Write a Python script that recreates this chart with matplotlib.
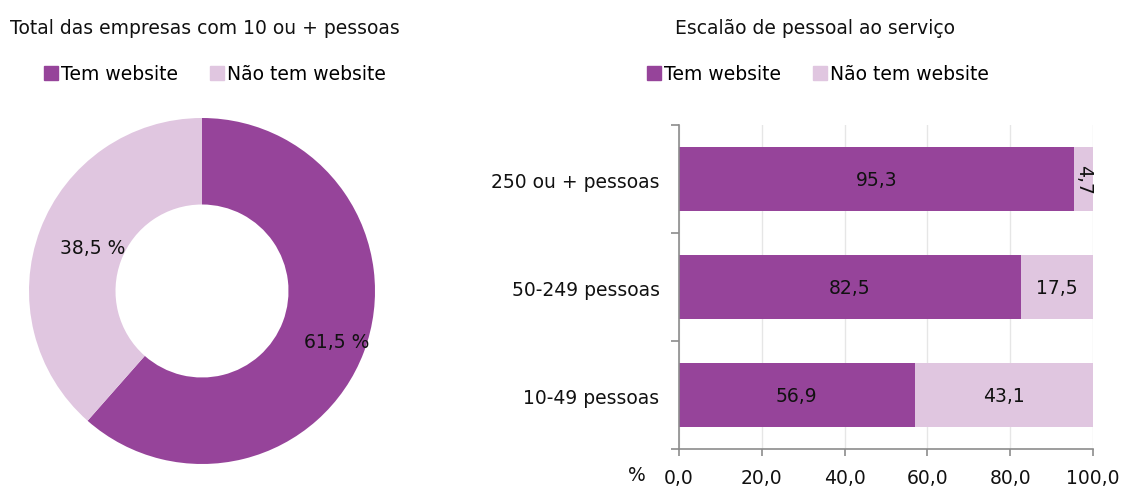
import matplotlib

matplotlib.use("Agg")
import matplotlib.pyplot as plt  # noqa: E402
from matplotlib.patches import Patch  # noqa: E402

DARK, LIGHT, INK, AXIS = "#96449A", "#E0C6E0", "#111111", "#8c8c8c"

series = ["Tem website", "Não tem website"]
total_values = [61.5, 38.5]

categories = ["10-49 pessoas", "50-249 pessoas", "250 ou + pessoas"]
tem_website = [56.9, 82.5, 95.3]
nao_tem_website = [43.1, 17.5, 4.7]
x_ticks = [0, 20, 40, 60, 80, 100]

plt.rcParams["font.family"] = ["DejaVu Sans"]
FS = 13.5

fig = plt.figure(figsize=(11.28, 4.89), dpi=100)
W, H = 1128, 489


def px_axes(x0, y0, x1, y1):
    return fig.add_axes([x0 / W, 1 - y1 / H, (x1 - x0) / W, (y1 - y0) / H])


def fmt(v):
    return f"{v:.1f}".replace(".", ",")


# ---- donut ----
ax1 = px_axes(29, 119, 375, 465)
ax1.pie(
    total_values,
    colors=[DARK, LIGHT],
    startangle=90,
    counterclock=False,
    radius=1.0,
    wedgeprops={"width": 0.5, "edgecolor": "none"},
)
ax1.set_xlim(-1, 1)
ax1.set_ylim(-1, 1)
ax1.set_aspect("equal")
ax1.text(0.78, -0.29, fmt(total_values[0]) + " %", ha="center", va="center",
         fontsize=FS, color=INK)
ax1.text(-0.63, 0.25, fmt(total_values[1]) + " %", ha="center", va="center",
         fontsize=FS, color=INK)

fig.text(10 / W, 1 - 28 / H, "Total das empresas com 10 ou + pessoas",
         ha="left", va="center", fontsize=FS, color=INK)
handles = [Patch(color=DARK, label=series[0]), Patch(color=LIGHT, label=series[1])]
leg_kw = dict(ncol=2, frameon=False, fontsize=FS, handlelength=0.75, handleheight=0.75,
              handletextpad=0.15, columnspacing=1.7, borderaxespad=0, borderpad=0)
fig.legend(handles=handles, loc="center left", bbox_to_anchor=(44 / W, 1 - 75 / H), **leg_kw)

# ---- stacked bars ----
ax2 = px_axes(679, 126, 1093, 450)
ypos = list(range(len(categories)))
ax2.barh(ypos, tem_website, height=0.59, color=DARK, zorder=2)
ax2.barh(ypos, nao_tem_website, left=tem_website, height=0.59, color=LIGHT, zorder=2)
for y, a, b in zip(ypos, tem_website, nao_tem_website):
    ax2.text(a / 2, y, fmt(a), ha="center", va="center", fontsize=FS, color=INK, zorder=3)
    ax2.text(a + b / 2, y, fmt(b), ha="center", va="center", fontsize=FS, color=INK,
             rotation=-90 if b < 8 else 0, zorder=3)

ax2.set_xlim(0, 100)
ax2.set_ylim(-0.5, len(categories) - 0.5)
ax2.set_xticks(x_ticks)
ax2.set_xticklabels([fmt(v) for v in x_ticks], fontsize=FS, color=INK)
ax2.set_yticks(ypos)
ax2.set_yticklabels(categories, fontsize=FS, color=INK)
ax2.tick_params(axis="y", length=0, pad=14)
ax2.set_yticks([-0.5, 0.5, 1.5, 2.5], minor=True)
ax2.tick_params(axis="y", which="minor", length=6, color=AXIS, width=1.2)
ax2.tick_params(axis="x", length=5, color=AXIS, width=1.2, pad=9)
ax2.grid(axis="x", color="#e6e6e6", lw=1, zorder=0)
for s in ("top", "right"):
    ax2.spines[s].set_visible(False)
for s in ("left", "bottom"):
    ax2.spines[s].set_color(AXIS)
    ax2.spines[s].set_linewidth(1.2)

fig.text(637 / W, 1 - 476 / H, "%", ha="center", va="center", fontsize=FS, color=INK)
fig.text(815 / W, 1 - 28 / H, "Escalão de pessoal ao serviço",
         ha="center", va="center", fontsize=FS, color=INK)
fig.legend(handles=handles, loc="center left", bbox_to_anchor=(647 / W, 1 - 75 / H), **leg_kw)

fig.savefig("out.png", dpi=100)
